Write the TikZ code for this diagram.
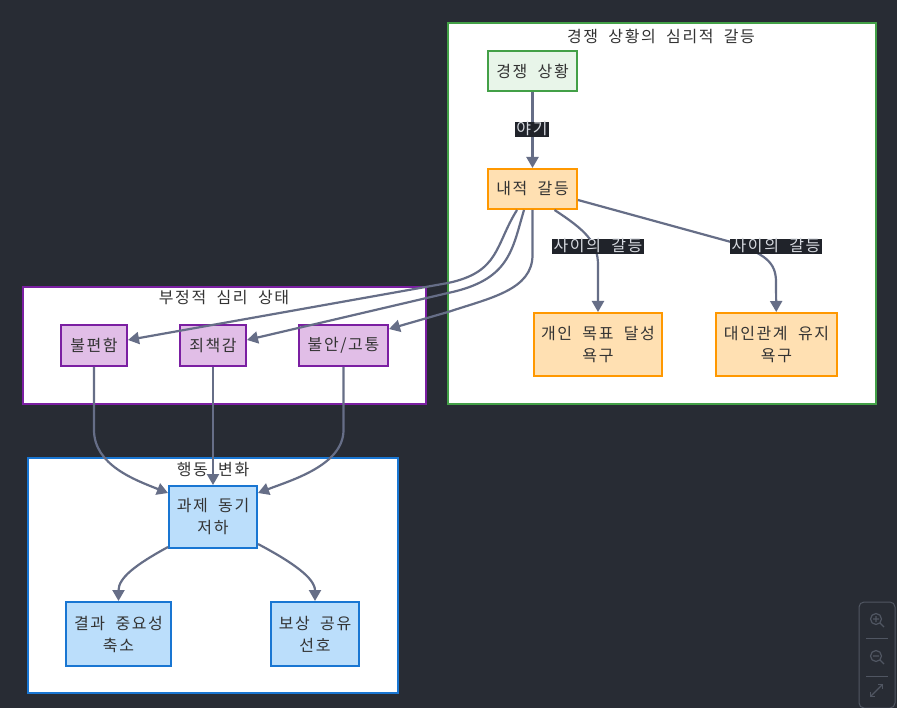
\documentclass[tikz,border=0pt]{standalone}
\usepackage{fontspec}
\setmainfont[LetterSpace=10,WordSpace=2]{Noto Sans CJK KR}
\usetikzlibrary{arrows.meta}
\definecolor{bgdark}{RGB}{40,44,52}
\definecolor{edgecol}{RGB}{102,110,135}
\definecolor{txt}{RGB}{51,51,51}
\definecolor{labelbg}{RGB}{32,35,42}
\definecolor{labeltxt}{RGB}{215,218,224}
\definecolor{greenline}{RGB}{67,160,71}
\definecolor{greenfill}{RGB}{232,245,233}
\definecolor{orangeline}{RGB}{255,152,0}
\definecolor{orangefill}{RGB}{255,224,178}
\definecolor{purpleline}{RGB}{123,31,162}
\definecolor{purplefill}{RGB}{225,190,231}
\definecolor{blueline}{RGB}{25,118,210}
\definecolor{bluefill}{RGB}{187,222,251}
\definecolor{ctrlcol}{RGB}{80,86,98}
\begin{document}
\begin{tikzpicture}[x=1pt,y=-1pt,
  box/.style={draw,line width=2pt,text=txt,align=center,inner sep=0pt,
    font=\fontsize{16}{22}\selectfont},
  sitbox/.style={box,draw=greenline,fill=greenfill},
  conflictbox/.style={box,draw=orangeline,fill=orangefill},
  moodbox/.style={box,draw=purpleline,fill=purplefill},
  actbox/.style={box,draw=blueline,fill=bluefill},
  edge/.style={draw=edgecol,line width=2.2pt,-{Triangle[length=11pt,width=12pt]}},
  elabel/.style={fill=labelbg,text=labeltxt,inner xsep=1.5pt,inner ysep=0pt,
    text height=12pt,text depth=3pt,font=\fontsize{16}{18}\selectfont},
  grouptitle/.style={text=txt,font=\fontsize{16}{18}\selectfont},
  group/.style={fill=white,line width=2pt}]
\fill[bgdark] (0,0) rectangle (897,708);
\useasboundingbox (0,0) rectangle (897,708);

\draw[group,draw=greenline] (448,23) rectangle (876,404);
\draw[group,draw=purpleline] (23,287) rectangle (426,404);
\draw[group,draw=blueline] (28,458) rectangle (398,693);
\node[grouptitle] (tcomp) at (661,36) {경쟁 상황의 심리적 갈등};
\node[grouptitle] (tmood) at (224,298) {부정적 심리 상태};
\node[grouptitle] (tact) at (213,470) {행동 변화};

\node[sitbox,minimum width=89pt,minimum height=40pt] (sit) at (532.5,71) {경쟁 상황};
\node[conflictbox,minimum width=89pt,minimum height=40pt] (inner) at (532.5,189) {내적 갈등};
\node[conflictbox,minimum width=128pt,minimum height=63pt] (goal) at (598,344.5) {개인 목표 달성\\욕구};
\node[conflictbox,minimum width=121pt,minimum height=63pt] (bond) at (776.5,344.5) {대인관계 유지\\욕구};

\node[moodbox,minimum width=66pt,minimum height=41pt] (unease) at (94,345.5) {불편함};
\node[moodbox,minimum width=66pt,minimum height=41pt] (guilt) at (213,345.5) {죄책감};
\node[moodbox,minimum width=89pt,minimum height=41pt] (anxiety) at (343.5,345.5) {불안/고통};

\node[actbox,minimum width=88pt,minimum height=62pt] (motive) at (213,517) {과제 동기\\저하};
\node[actbox,minimum width=105pt,minimum height=64pt] (shrink) at (118.5,634) {결과 중요성\\축소};
\node[actbox,minimum width=88pt,minimum height=64pt] (share) at (315,634) {보상 공유\\선호};

\draw[edge] (sit) -- (inner);
\node[elabel] (lcause) at (532,130) {야기};
\draw[edge] ([xshift=22pt]inner.south) .. controls (585,230) and (598,242) .. (598,265) -- (goal);
\draw[edge] ([yshift=-11pt]inner.east) -- (731,242) .. controls (765,254) and (776,262) .. (776,282) -- (bond);
\node[elabel] (lgap1) at (598,247) {사이의 갈등};
\node[elabel] (lgap2) at (776,247) {사이의 갈등};

\draw[edge] ([xshift=-15.5pt]inner.south) .. controls (495,245) and (500,272) .. (448,283) -- ([yshift=5.5pt]unease.east);
\draw[edge] ([xshift=-8.5pt]inner.south) .. controls (512,250) and (510,280) .. (448,293) -- ([yshift=5.5pt]guilt.east);
\draw[edge] (inner.south) -- (532.5,255) .. controls (532.5,290) and (490,298) .. (448,312) -- ([yshift=16.5pt]anxiety.east);

\draw[edge] (unease.south) -- (94,430) .. controls (94,465) and (135,480) .. ([yshift=-8pt]motive.north west);
\draw[edge] (guilt) -- (motive);
\draw[edge] (anxiety.south) -- (343.5,430) .. controls (343.5,465) and (292,480) .. ([yshift=-8pt]motive.north east);
\draw[edge] ([yshift=2pt]motive.south west) .. controls (135,565) and (118.5,578) .. (shrink.north);
\draw[edge] ([yshift=5pt]motive.south east) .. controls (292,562) and (315,578) .. (share.north);

\draw[ctrlcol,line width=1pt,rounded corners=5pt] (859,602) rectangle (895,708);
\draw[ctrlcol,line width=1.2pt] (876,619) circle (5.5) (880,623) -- (884,627)
  (873,619) -- (879,619) (876,616) -- (876,622);
\draw[ctrlcol,line width=1pt] (866,638) -- (888,638) (866,676) -- (888,676);
\draw[ctrlcol,line width=1.2pt] (876,656) circle (5.5) (880,660) -- (884,664) (873,656) -- (879,656);
\draw[ctrlcol,line width=1.2pt,{Straight Barb[length=3pt]}-{Straight Barb[length=3pt]}] (870,697) -- (883,684);
\end{tikzpicture}
\end{document}
